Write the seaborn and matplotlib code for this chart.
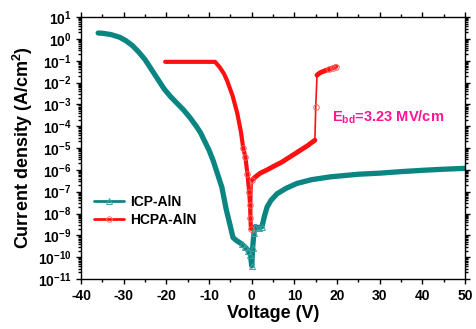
import numpy as np
import matplotlib
matplotlib.use("Agg")
import matplotlib.pyplot as plt
import seaborn as sns
from matplotlib.lines import Line2D
from matplotlib.ticker import FuncFormatter, MultipleLocator, LogLocator, NullFormatter

# ICP-AlN: voltage (V) and log10 current density (A/cm^2)
icp_v = [-36, -35, -33, -31, -29.5, -28, -26.5, -25, -23.5, -22, -20.5, -19, -17.5,
         -16, -14.5, -13, -12, -11, -10, -9, -8, -7, -6, -5, -4.4, -3.5, -2.3,
         -1.5, -0.8, -0.3, 0, 0.2, 0.5, 0.8, 1.6, 2.4, 3.0, 3.6, 4.5, 5.9, 8,
         10.6, 14, 18.4, 25, 30, 35, 40, 45, 50]
icp_log = [0.27, 0.26, 0.2, 0.08, -0.08, -0.3, -0.6, -0.95, -1.4, -1.85, -2.3, -2.65,
           -2.95, -3.25, -3.6, -4.0, -4.3, -4.7, -5.1, -5.6, -6.2, -6.8, -7.8, -8.6,
           -9.1, -9.25, -9.4, -9.55, -9.7, -9.9, -10.4, -9.6, -8.9, -8.6, -8.65,
           -8.6, -8.1, -7.7, -7.4, -7.1, -6.85, -6.62, -6.45, -6.32, -6.2, -6.15,
           -6.08, -6.02, -5.97, -5.93]

# HCPA-AlN
hcpa_v = [-20.3, -18, -15, -12, -10, -8.6, -7.5, -6.5, -5.8, -4.5, -3.4, -2.5, -2.0,
          -1.5, -1.0, -0.6, -0.4, -0.3, -0.2, 0.1, 1, 2, 3.6, 5, 7, 9, 11, 13,
          14.8, 15.0, 15.3, 16, 17, 18, 19, 19.7]
hcpa_log = [-1.05, -1.05, -1.05, -1.05, -1.05, -1.05, -1.3, -1.6, -1.9, -2.6, -3.4,
            -4.3, -5.0, -5.4, -6.2, -7.0, -7.6, -8.2, -8.7, -6.45, -6.3, -6.15, -6.0,
            -5.85, -5.65, -5.4, -5.15, -4.9, -4.64, -3.1, -1.66, -1.55, -1.47, -1.4,
            -1.33, -1.27]

icp_j = 10.0 ** np.array(icp_log)
hcpa_j = 10.0 ** np.array(hcpa_log)

teal = "#0b8582"
red = "#ff1010"
pink = "#ff1493"

sns.set_style("ticks")
plt.rcParams["font.family"] = ["Liberation Sans", "DejaVu Sans"]
plt.rcParams["mathtext.fontset"] = "custom"
plt.rcParams["mathtext.rm"] = "Liberation Sans"
plt.rcParams["mathtext.bf"] = "Liberation Sans:bold"
plt.rcParams["mathtext.it"] = "Liberation Sans:italic"
plt.rcParams["axes.unicode_minus"] = False
plt.rcParams["text.color"] = "black"
plt.rcParams["axes.labelcolor"] = "black"
plt.rcParams["xtick.color"] = "black"
plt.rcParams["ytick.color"] = "black"
plt.rcParams["lines.solid_joinstyle"] = "round"
plt.rcParams["lines.solid_capstyle"] = "round"

fig = plt.figure(figsize=(4.77, 3.29), dpi=100)
ax = fig.add_axes([0.170, 0.152, 0.805, 0.796])

# thick bands (the dense measured points in the original)
sns.lineplot(x=icp_v, y=icp_j, ax=ax, color=teal, lw=3.8, sort=False,
             estimator=None)
sns.lineplot(x=hcpa_v, y=hcpa_j, ax=ax, color=red, lw=1.2, sort=False,
             estimator=None, zorder=3)
sns.lineplot(x=hcpa_v[:19], y=hcpa_j[:19], ax=ax, color=red, lw=3.0, sort=False,
             estimator=None, zorder=3)
sns.lineplot(x=hcpa_v[19:29], y=hcpa_j[19:29], ax=ax, color=red, lw=3.5, sort=False,
             estimator=None, zorder=3)
sns.lineplot(x=hcpa_v[30:], y=hcpa_j[30:], ax=ax, color=red, lw=3.5, sort=False,
             estimator=None, zorder=3)

# open markers where the points are sparse
icp_mk = list(range(26, 36))
hcpa_mk = list(range(12, 20)) + [29, 33, 34, 35]
ax.plot(np.array(icp_v)[icp_mk], icp_j[icp_mk], ls="none", marker="^", ms=4,
        mfc="none", mec="#3aa29f", mew=0.7, zorder=4)
ax.plot(np.array(hcpa_v)[hcpa_mk], hcpa_j[hcpa_mk], ls="none", marker="o", ms=4,
        mfc="none", mec="#ff6060", mew=0.7, zorder=4)

ax.set_yscale("log")
ax.set_xlim(-40, 50)
ax.set_ylim(1e-11, 10)
ax.xaxis.set_major_locator(MultipleLocator(10))
ax.xaxis.set_minor_locator(MultipleLocator(5))
ax.yaxis.set_major_locator(LogLocator(base=10, numticks=20))
ax.yaxis.set_minor_locator(LogLocator(base=10, subs=np.arange(2, 10), numticks=20))
ax.yaxis.set_minor_formatter(NullFormatter())
ax.yaxis.set_major_formatter(FuncFormatter(
    lambda v, p: r"$\mathbf{10^{%d}}$" % int(round(np.log10(v)))))

ax.tick_params(which="both", direction="out", top=True, right=True,
               labelsize=10, width=1, color="black")
ax.tick_params(which="major", length=3.5)
ax.tick_params(which="minor", length=2)
for lab in ax.get_xticklabels():
    lab.set_fontweight("bold")
for s in ax.spines.values():
    s.set_visible(True)
    s.set_linewidth(1)
    s.set_color("black")

ax.set_xlabel("Voltage (V)", fontsize=13, fontweight="bold", labelpad=2)
ax.set_ylabel(r"Current density (A/cm$^{\mathbf{2}}$)", fontsize=13,
              fontweight="bold", labelpad=2)

ax.text(18.8, 10 ** -3.59, r"E$_{\mathbf{bd}}$=3.23 MV/cm", color=pink,
        fontsize=10.5, fontweight="bold", va="center")

handles = [
    Line2D([], [], color=teal, lw=2, marker="^", ms=4, mfc="none", mec="#40a8a5",
           mew=0.7),
    Line2D([], [], color=red, lw=2, marker="o", ms=4, mfc="none", mec="#ff8080",
           mew=0.7),
]
leg = ax.legend(handles, ["ICP-AlN", "HCPA-AlN"], loc="lower left",
                bbox_to_anchor=(0.0, 0.15), frameon=False, handlelength=2.2,
                handletextpad=0.4, labelspacing=0.3,
                prop={"weight": "bold", "size": 10})

fig.savefig("out.png", dpi=100)
